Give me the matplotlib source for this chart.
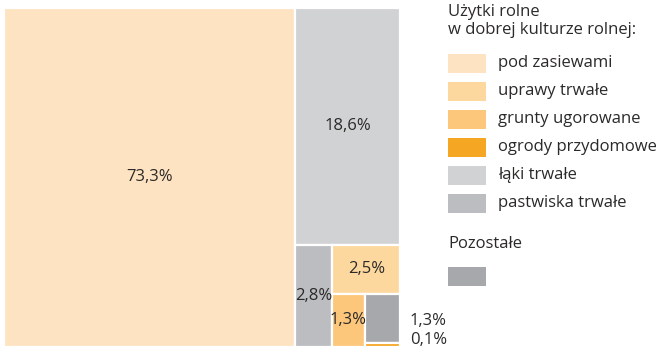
import matplotlib
matplotlib.use("Agg")
import matplotlib.pyplot as plt
from matplotlib.patches import Rectangle

plt.rcParams['font.family'] = ['Open Sans', 'DejaVu Sans']

# Land use shares (%)
categories = ["pod zasiewami", "uprawy trwałe", "grunty ugorowane", "ogrody przydomowe",
              "łąki trwałe", "pastwiska trwałe", "Pozostałe"]
values = [73.3, 2.5, 1.3, 0.1, 18.6, 2.8, 1.3]
colors = ["#FDE3C1", "#FDD89E", "#FCC67B", "#F5A623", "#D1D2D4", "#BCBDC1", "#A7A8AB"]
labels = ["73,3%", "2,5%", "1,3%", "0,1%", "18,6%", "2,8%", "1,3%"]
legend_title = "Użytki rolne\nw dobrej kulturze rolnej:"
other_title = "Pozostałe"

val = dict(zip(categories, values))
col = dict(zip(categories, colors))
lab = dict(zip(categories, labels))

# Nested slice-and-dice layout: (orientation, [children]) ; leaves are category names
layout = ("h", ["pod zasiewami",
                ("v", ["łąki trwałe",
                       ("h", ["pastwiska trwałe",
                              ("v", ["uprawy trwałe",
                                     ("h", ["grunty ugorowane",
                                            ("v", ["Pozostałe", "ogrody przydomowe"])])])])])])


def total(node):
    if isinstance(node, str):
        return val[node]
    return sum(total(c) for c in node[1])


def place(node, x, y, w, h, out):
    if isinstance(node, str):
        out[node] = (x, y, w, h)
        return
    orient, children = node
    s = total(node)
    pos = 0.0
    for c in children:
        f = total(c) / s
        if orient == "h":
            place(c, x + pos * w, y, w * f, h, out)
        else:
            place(c, x, y + pos * h, w, h * f, out)
        pos += f


fig = plt.figure(figsize=(6.63, 3.5), dpi=100)
ax = fig.add_axes([0, 0, 1, 1])
ax.set_xlim(0, 663)
ax.set_ylim(350, 0)
ax.axis("off")

rects = {}
place(layout, 4, 8, 396.5, 338.5, rects)

text_color = "#2B2A29"
fs = 12
for name, (x, y, w, h) in rects.items():
    ax.add_patch(Rectangle((x, y), w, h, facecolor=col[name], edgecolor="white", linewidth=1.6))

inside = ["pod zasiewami", "łąki trwałe", "pastwiska trwałe", "uprawy trwałe", "grunty ugorowane"]
for name in inside:
    x, y, w, h = rects[name]
    ax.text(x + w / 2, y + h / 2, lab[name], ha="center", va="center", fontsize=fs, color=text_color)

# Small cells labelled outside on the right
x, y, w, h = rects["Pozostałe"]
ax.text(410, y + h / 2 + 3, lab["Pozostałe"], ha="left", va="center", fontsize=fs, color=text_color)
ax.text(410, 340, lab["ogrody przydomowe"], ha="left", va="center", fontsize=fs, color=text_color)

# Legend
ax.text(448, 4, legend_title, ha="left", va="top", fontsize=fs, color=text_color, linespacing=1.2)
for i, name in enumerate(categories[:6]):
    yc = 63 + i * 28
    ax.add_patch(Rectangle((448, yc - 9.5), 38, 19, facecolor=col[name], edgecolor="none"))
    ax.text(498, yc, name, ha="left", va="center", fontsize=fs, color=text_color)

ax.text(448, 244, other_title, ha="left", va="center", fontsize=fs, color=text_color)
ax.add_patch(Rectangle((448, 266.5), 38, 19.5, facecolor=col["Pozostałe"], edgecolor="none"))

fig.savefig("out.png", dpi=100)
